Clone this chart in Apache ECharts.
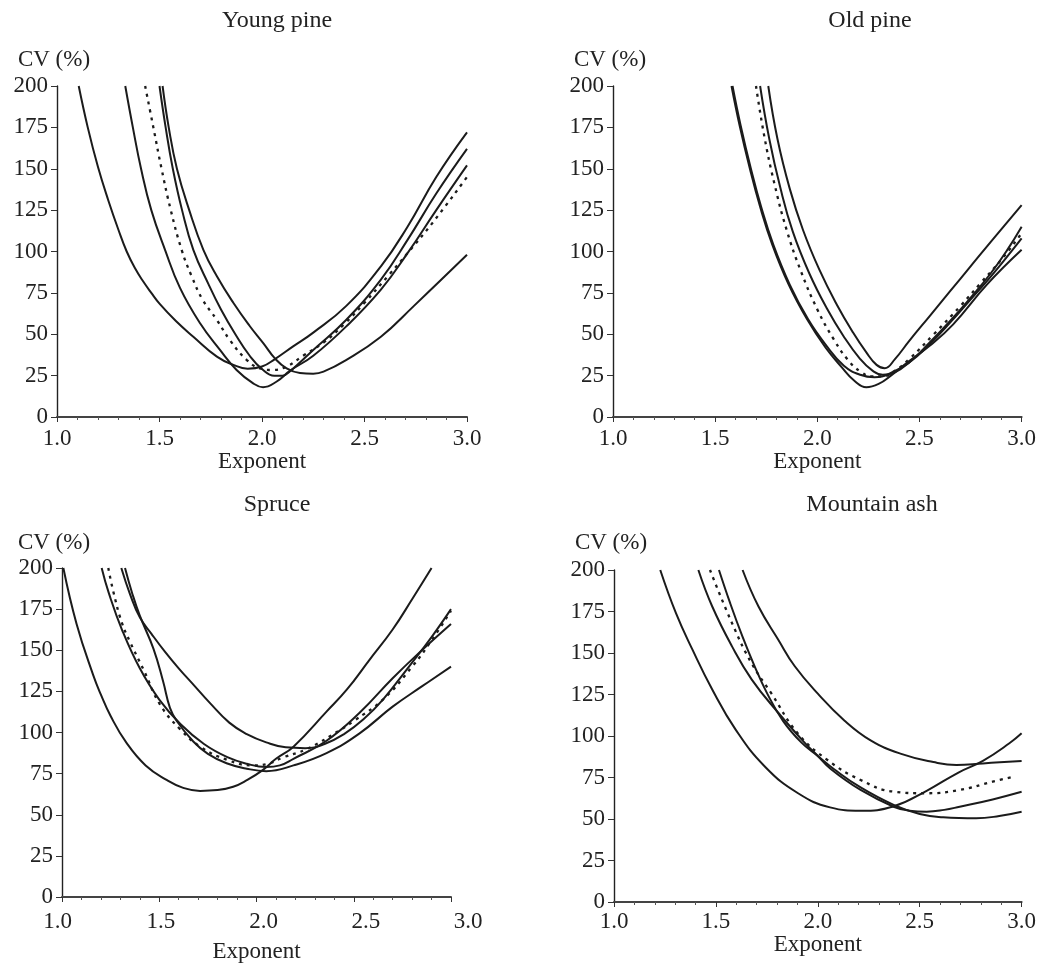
<!DOCTYPE html>
<html>
<head>
<meta charset="utf-8">
<title>cv_exponent</title>
<script src="https://cdn.jsdelivr.net/npm/echarts@6/dist/echarts.min.js"></script>
<style>
  html, body { margin: 0; padding: 0; background: #fff; }
  #main { width: 1039px; height: 965px; }
</style>
</head>
<body>
<div id="main"></div>
<script>
// ---- data: [exponent, CV %] ----
var youngPineA = [[1.106,200],[1.15,175],[1.20,151],[1.25,131],[1.30,113],[1.34,100],[1.38,90],[1.42,82],[1.46,75],[1.50,68.5],[1.58,58],[1.665,48.5],[1.78,36.5],[1.86,31.5],[1.93,29.2],[2.0,30.5],[2.063,35],[2.15,42.5],[2.25,51],[2.41,67],[2.58,91],[2.71,115],[2.85,145],[3.0,172]];
var youngPineB = [[1.333,200],[1.37,175],[1.41,150],[1.46,125],[1.527,101],[1.60,78],[1.698,56.6],[1.795,40.5],[1.876,28.4],[1.957,20.3],[2.005,18],[2.07,21.3],[2.137,28],[2.25,37],[2.41,54.6],[2.58,77],[2.71,99],[2.85,125],[3.0,152]];
var youngPineC = [[1.50,200],[1.53,175],[1.565,150],[1.61,125],[1.665,101],[1.74,80],[1.80,65],[1.87,50],[1.94,37],[2.0,29],[2.06,25],[2.10,25],[2.14,28],[2.25,40.5],[2.41,58.6],[2.58,83],[2.71,107],[2.85,135],[3.0,162]];
var youngPineD = [[1.515,200],[1.545,175],[1.585,150],[1.645,125],[1.714,101],[1.78,85],[1.86,69],[1.94,55],[2.007,44.5],[2.063,35.4],[2.12,29.4],[2.185,26.6],[2.25,26.2],[2.30,27.4],[2.41,34.4],[2.58,48.5],[2.74,67],[3.0,98]];
var youngPineMean = [[1.43,200],[1.47,175],[1.51,150],[1.555,125],[1.608,101],[1.657,85],[1.71,71],[1.78,58.6],[1.843,46.5],[1.926,34.4],[1.99,29.4],[2.05,28.4],[2.12,30.5],[2.20,37],[2.30,45],[2.40,56],[2.50,69],[2.62,86],[2.71,99],[2.83,117],[3.0,145]];

var oldPineA = [[1.58,200],[1.62,176],[1.67,150],[1.72,127],[1.78,104],[1.86,80],[1.95,59],[2.04,42],[2.12,30],[2.18,22],[2.24,18],[2.30,20],[2.36,25],[2.42,31],[2.55,43],[2.665,56],[2.83,80],[3.0,101]];
var oldPineB = [[1.585,200],[1.625,176],[1.675,150],[1.725,127],[1.785,104],[1.865,80],[1.955,59],[2.045,43],[2.13,31],[2.21,25.5],[2.28,24],[2.35,26],[2.45,33],[2.55,44],[2.65,57],[2.75,71],[2.85,85],[3.0,108]];
var oldPineC = [[1.72,200],[1.765,168],[1.82,138],[1.88,112],[1.96,87],[2.045,66],[2.13,48.5],[2.21,35],[2.27,28],[2.32,25.5],[2.38,27],[2.45,33],[2.55,45],[2.65,58],[2.75,72],[2.85,87],[2.93,101],[3.0,115]];
var oldPineD = [[1.76,200],[1.805,168],[1.865,138],[1.93,113],[2.01,89],[2.095,68],[2.175,51],[2.24,39],[2.29,31.5],[2.33,29.5],[2.38,35],[2.45,46],[2.55,61],[2.65,76],[2.75,91],[2.85,106],[3.0,128]];
var oldPineMean = [[1.70,200],[1.74,170],[1.79,141],[1.85,113],[1.92,88],[2.0,65],[2.08,47],[2.15,34.5],[2.21,27.5],[2.27,24.5],[2.32,24.5],[2.38,28],[2.45,35],[2.57,50],[2.70,67],[2.80,81],[2.90,95],[3.0,111]];

var spruceA = [[1.007,200],[1.075,166],[1.16,135],[1.2,123],[1.25,110],[1.33,94],[1.43,80],[1.54,71],[1.62,66.5],[1.71,64.5],[1.80,65],[1.88,67],[1.95,71],[2.03,77],[2.1,84],[2.19,91.4],[2.36,112.7],[2.464,126],[2.58,144],[2.70,162.6],[2.80,181],[2.90,200]];
var spruceB = [[1.204,200],[1.24,185],[1.31,162],[1.40,139],[1.50,120],[1.61,105],[1.73,93],[1.85,85],[1.95,81],[2.05,79],[2.12,80],[2.19,84],[2.36,95],[2.53,112],[2.70,133],[2.85,150],[3.0,166]];
var spruceC = [[1.305,200],[1.35,184],[1.40,170],[1.46,160],[1.53,149],[1.60,139],[1.68,128.5],[1.76,118],[1.86,106],[1.95,99],[2.05,94],[2.15,91],[2.25,90.5],[2.35,93],[2.45,99],[2.55,108],[2.65,120],[2.79,141],[2.9,158],[3.0,175]];
var spruceD = [[1.324,200],[1.36,185],[1.40,171],[1.47,151],[1.52,131],[1.555,115],[1.59,107],[1.675,94.5],[1.75,87],[1.846,81.3],[1.95,78],[2.05,76.5],[2.19,80],[2.36,87.5],[2.53,99.5],[2.70,115.7],[2.85,128],[3.0,140]];
var spruceMean = [[1.238,200],[1.264,185.6],[1.307,167],[1.35,155],[1.42,138],[1.504,117],[1.607,102],[1.709,91.5],[1.846,83.5],[1.983,80],[2.06,81],[2.14,85],[2.26,90],[2.43,101.5],[2.5,107],[2.65,120],[2.8,140],[2.9,156],[3.0,174]];

var ashA = [[1.227,200],[1.304,174],[1.385,152],[1.482,128],[1.596,104],[1.741,81.5],[1.903,65.5],[2.06,57],[2.21,55],[2.37,57.5],[2.534,67],[2.69,78],[2.81,85],[2.94,95.6],[3.0,101.6]];
var ashB = [[1.414,200],[1.482,178],[1.579,154],[1.676,134],[1.806,114],[1.935,96],[2.0,88],[2.065,80],[2.21,67.5],[2.372,57.4],[2.45,55],[2.534,54.4],[2.62,55.5],[2.696,57.4],[2.858,61.8],[3.0,66.4]];
var ashC = [[1.515,200],[1.57,180],[1.63,160],[1.69,142],[1.75,126],[1.83,109],[1.92,96],[2.0,88],[2.08,80],[2.21,69],[2.372,58.5],[2.5,53],[2.615,51],[2.777,50.4],[2.89,51.8],[3.0,54.4]];
var ashD = [[1.631,200],[1.709,178],[1.806,158],[1.887,142],[2.0,125.5],[2.13,109.4],[2.259,97.4],[2.405,89.4],[2.567,84.3],[2.68,82.5],[2.81,83.5],[3.0,85]];
var ashMean = [[1.471,200],[1.579,168],[1.676,143.6],[1.773,125.5],[1.903,101.4],[2.049,85.4],[2.21,73.5],[2.372,66.5],[2.534,65.5],[2.696,67.5],[2.858,72.5],[2.96,75.5]];

var panelTitles = ['Young pine', 'Old pine', 'Spruce', 'Mountain ash'];
var xTicks = [1.0, 1.5, 2.0, 2.5, 3.0];
var yTicks = [0, 25, 50, 75, 100, 125, 150, 175, 200];

var panelLines = [
    [youngPineA, youngPineB, youngPineC, youngPineD],
    [oldPineA, oldPineB, oldPineC, oldPineD],
    [spruceA, spruceB, spruceC, spruceD],
    [ashA, ashB, ashC, ashD]
];
var panelMeans = [youngPineMean, oldPineMean, spruceMean, ashMean];

// layout of the four panels (pixels)
var grids = [
    {left: 57, top: 86, width: 410, height: 331},
    {left: 613, top: 86, width: 409, height: 331},
    {left: 62, top: 568, width: 389, height: 329},
    {left: 614, top: 570, width: 412, height: 332}
];
var titlePos = [[277, 9], [870, 9], [277, 493], [872, 493]];
var xNameGap = [28, 28, 43, 30];
var xLabelMargin = [10, 10, 13, 8];
var yNameGap = [15, 15, 14, 16];
var yNamePad = [[0, 6, 0, 0], [0, 6, 0, 0], [0, 16, 0, 0], [0, 6, 0, 0]];
// spruce tick labels sit a little off their ticks in the original
var spruceLabelShift = [-4.5, 1.6, 7, 12, 17];

var FONT = 'Liberation Serif';
var INK = '#1b1b1b';

function labelRich(shifts) {
    var rich = {};
    shifts.forEach(function (s, k) {
        rich['s' + k] = {
            fontFamily: FONT, fontSize: 23, color: '#222',
            padding: s >= 0 ? [0, 0, 0, 2 * s] : [0, -2 * s, 0, 0]
        };
    });
    return rich;
}

var option = {
    backgroundColor: '#fff',
    animation: false,
    title: [],
    grid: [],
    xAxis: [],
    yAxis: [],
    series: []
};

for (var i = 0; i < 4; i++) {
    option.title.push({
        text: panelTitles[i],
        left: titlePos[i][0],
        top: titlePos[i][1],
        textAlign: 'center',
        padding: 0,
        textStyle: {fontFamily: FONT, fontSize: 24, fontWeight: 'normal', color: '#222'}
    });
    option.grid.push(grids[i]);
    var xLabel = {
        fontFamily: FONT, fontSize: 23, color: '#222', margin: xLabelMargin[i],
        formatter: function (v) { return v.toFixed(1); }
    };
    if (i === 2) {
        xLabel.rich = labelRich(spruceLabelShift);
        xLabel.formatter = function (v) {
            var k = Math.round((v - 1) / 0.5);
            return '{s' + k + '|' + v.toFixed(1) + '}';
        };
    }
    option.xAxis.push({
        gridIndex: i,
        type: 'value',
        min: xTicks[0],
        max: xTicks[xTicks.length - 1],
        interval: 0.5,
        name: 'Exponent',
        nameLocation: 'middle',
        nameGap: xNameGap[i],
        nameTextStyle: {fontFamily: FONT, fontSize: 23, color: '#222'},
        axisLine: {onZero: false, lineStyle: {color: '#444', width: 2}},
        axisTick: {show: true, inside: false, length: 5, lineStyle: {color: '#333', width: 1}},
        minorTick: {show: true, splitNumber: 5, length: 3, lineStyle: {color: '#555', width: 1}},
        splitLine: {show: false},
        axisLabel: xLabel
    });
    option.yAxis.push({
        gridIndex: i,
        type: 'value',
        min: yTicks[0],
        max: yTicks[yTicks.length - 1],
        interval: 25,
        name: 'CV (%)',
        nameLocation: 'end',
        nameGap: yNameGap[i],
        nameTextStyle: {fontFamily: FONT, fontSize: 23, color: '#222', padding: yNamePad[i]},
        axisLine: {show: true, lineStyle: {color: '#222', width: 1.4}},
        axisTick: {show: true, inside: false, length: 6, lineStyle: {color: '#333', width: 1}},
        splitLine: {show: false},
        axisLabel: {fontFamily: FONT, fontSize: 23, color: '#222', margin: 9}
    });
    panelLines[i].forEach(function (pts) {
        option.series.push({
            type: 'line',
            xAxisIndex: i,
            yAxisIndex: i,
            data: pts,
            smooth: 0.45,
            showSymbol: false,
            silent: true,
            lineStyle: {color: INK, width: 2}
        });
    });
    option.series.push({
        type: 'line',
        xAxisIndex: i,
        yAxisIndex: i,
        data: panelMeans[i],
        smooth: 0.45,
        showSymbol: false,
        silent: true,
        lineStyle: {color: INK, width: 2.3, type: [3, 5]}
    });
}

var myChart = echarts.init(document.getElementById('main'), null, {renderer: 'canvas'});
myChart.setOption(option);
</script>
</body>
</html>
